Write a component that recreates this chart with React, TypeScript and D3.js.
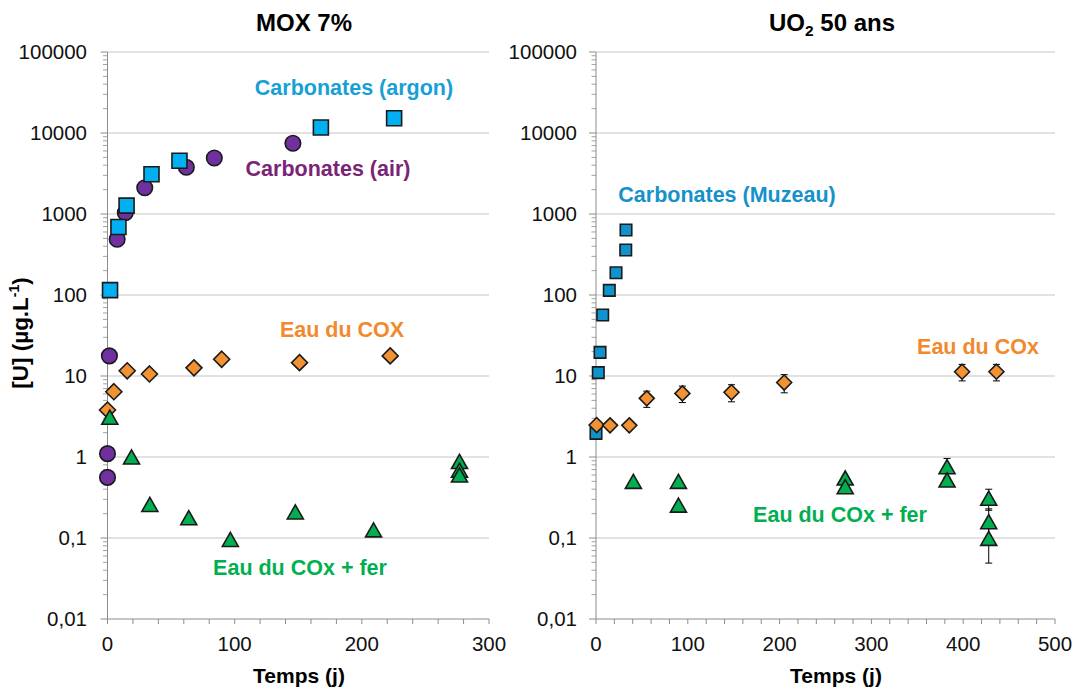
import React from "react";
import * as d3 from "d3";

// ---------- data ----------
const yTickValues = [100000, 10000, 1000, 100, 10, 1, 0.1, 0.01];
const yTickLabels = ["100000", "10000", "1000", "100", "10", "1", "0,1", "0,01"];
const leftXTicks = [0, 100, 200, 300];
const rightXTicks = [0, 100, 200, 300, 400, 500];

// MOX 7%
const moxArgonT = [2, 8.6, 15, 34.6, 56.6, 167.8, 225.4];
const moxArgonV = [115, 690, 1270, 3090, 4550, 11700, 15200];
const moxAirT = [0, 0, 1.5, 7.6, 14, 29.3, 62, 84, 145.8];
const moxAirV = [0.56, 1.1, 17.7, 488, 1037, 2110, 3770, 4910, 7470];
const moxCoxT = [0, 5, 15.5, 33, 68, 89.8, 151, 222.3];
const moxCoxV = [3.8, 6.4, 11.6, 10.6, 12.6, 16.1, 14.6, 17.7];
const moxFerT = [1.8, 18.9, 33.3, 63.9, 96.6, 147.7, 209.2, 276.8, 276.8, 276.8];
const moxFerV = [3.1, 1.0, 0.26, 0.178, 0.096, 0.21, 0.126, 0.88, 0.69, 0.6];

// UO2 50 ans
const uoCarbT = [0, 2.5, 4.4, 7.3, 14.5, 21.8, 32.4, 32.7];
const uoCarbV = [1.96, 11, 19.6, 56.6, 114, 188, 360, 634];
const uoCoxT = [0.7, 15.3, 36.3, 55.3, 94.1, 147.6, 205, 398.8, 436.2];
const uoCoxV = [2.48, 2.46, 2.46, 5.3, 6.1, 6.3, 8.3, 11.3, 11.3];
const uoCoxErr = [0, 0, 0, 1.2, 1.4, 1.5, 2.1, 2.6, 2.6];
const uoFerT = [40.7, 89.8, 89.8, 271.5, 271.5, 382.4, 382.4, 427.8, 427.8, 427.8];
const uoFerV = [0.5, 0.5, 0.255, 0.55, 0.43, 0.76, 0.52, 0.31, 0.159, 0.099];
const uoFerErr = [0, 0, 0, 0, 0, 0.2, 0, 0.09, 0.07, 0.05];

// ---------- styles ----------
const FONT = "'Liberation Sans', Arial, Helvetica, sans-serif";
const C_ARGON = "#00b0f0";
const C_ARGON_TXT = "#17a0d6";
const C_MUZ = "#0f93cc";
const C_MUZ_TXT = "#1592c9";
const C_AIR = "#7030a0";
const C_AIR_TXT = "#7a2478";
const C_COX = "#f39232";
const C_COX_TXT = "#f08a2c";
const C_FER = "#00b050";
const GRID = "#c6c6c6";
const AXIS = "#8c8c8c";

const yScale = d3.scaleLog().domain([0.01, 100000]).range([619, 52]);
const xLeft = d3.scaleLinear().domain([0, 300]).range([107.5, 489]);
const xRight = d3.scaleLinear().domain([0, 500]).range([596, 1055]);

type Shape = "square" | "circle" | "diamond" | "triangle";

function markerPath(shape: Shape, s: number): string {
  const h = s / 2;
  if (shape === "square") return `M${-h},${-h}H${h}V${h}H${-h}Z`;
  if (shape === "diamond") return `M0,${-h}L${h},0L0,${h}L${-h},0Z`;
  if (shape === "triangle") {
    const th = s * 0.88;
    return `M0,${-th / 2}L${h},${th / 2}L${-h},${th / 2}Z`;
  }
  const p = d3.path();
  p.arc(0, 0, h, 0, Math.PI * 2);
  p.closePath();
  return p.toString();
}

function Series(props: {
  xs: number[];
  ys: number[];
  errs?: number[];
  x: d3.ScaleLinear<number, number>;
  shape: Shape;
  size: number;
  fill: string;
}) {
  const { xs, ys, errs, x, shape, size, fill } = props;
  const d = markerPath(shape, size);
  return (
    <g>
      {errs &&
        xs.map((t, i) =>
          errs[i] > 0 ? (
            <g key={"e" + i} stroke="#000" strokeWidth={1}>
              <line x1={x(t)} x2={x(t)} y1={yScale(ys[i] + errs[i])} y2={yScale(ys[i] - errs[i])} />
              <line x1={x(t) - 3.5} x2={x(t) + 3.5} y1={yScale(ys[i] + errs[i])} y2={yScale(ys[i] + errs[i])} />
              <line x1={x(t) - 3.5} x2={x(t) + 3.5} y1={yScale(ys[i] - errs[i])} y2={yScale(ys[i] - errs[i])} />
            </g>
          ) : null
        )}
      {xs.map((t, i) => (
        <path
          key={i}
          d={d}
          transform={`translate(${x(t)},${yScale(ys[i])})`}
          fill={fill}
          stroke="#1a1a1a"
          strokeWidth={1.6}
        />
      ))}
    </g>
  );
}

function Axes(props: {
  x: d3.ScaleLinear<number, number>;
  xTicks: number[];
  xMax: number;
  labelRight: number;
}) {
  const { x, xTicks, xMax, labelRight } = props;
  const x0 = x(0);
  const x1 = x(xMax);
  const minor: number[] = [];
  for (let e = -2; e < 5; e++) {
    for (let m = 2; m <= 9; m++) minor.push(m * Math.pow(10, e));
  }
  const xMinor = d3.range(0, xMax + 0.001, 20);
  return (
    <g fontFamily={FONT}>
      {yTickValues.map((v) =>
        v > 0.01 ? (
          <line key={"g" + v} x1={x0} x2={x1} y1={yScale(v)} y2={yScale(v)} stroke={GRID} strokeWidth={1.2} />
        ) : null
      )}
      {/* y axis */}
      <line x1={x0} x2={x0} y1={yScale(100000)} y2={yScale(0.01)} stroke={AXIS} strokeWidth={1} />
      {yTickValues.map((v) => (
        <line key={"yt" + v} x1={x0 - 7} x2={x0} y1={yScale(v)} y2={yScale(v)} stroke={AXIS} strokeWidth={1} />
      ))}
      {minor.map((v) => (
        <line key={"ym" + v} x1={x0 - 4.5} x2={x0} y1={yScale(v)} y2={yScale(v)} stroke={AXIS} strokeWidth={0.8} />
      ))}
      {yTickValues.map((v, i) => (
        <text key={"yl" + v} x={labelRight} y={yScale(v)} dy="0.36em" textAnchor="end" fontSize={20.5} fill="#111">
          {yTickLabels[i]}
        </text>
      ))}
      {/* x axis */}
      <line x1={x0} x2={x1} y1={yScale(0.01)} y2={yScale(0.01)} stroke={AXIS} strokeWidth={1} />
      {xMinor.map((t) => (
        <line key={"xm" + t} x1={x(t)} x2={x(t)} y1={yScale(0.01)} y2={yScale(0.01) + 5} stroke={AXIS} strokeWidth={1} />
      ))}
      {xTicks.map((t) => (
        <text key={"xl" + t} x={x(t)} y={651} textAnchor="middle" fontSize={20.5} fill="#111">
          {t}
        </text>
      ))}
    </g>
  );
}

export default function App() {
  return (
    <svg
      width={1074}
      height={691}
      style={{ position: "absolute", left: 0, top: 0, background: "#fff" }}
      fontFamily={FONT}
    >
      <rect x={0} y={0} width={1074} height={691} fill="#fff" />
      {/* Titles */}
      <text x={304} y={31} textAnchor="middle" fontSize={24} fontWeight="bold" fill="#000">
        MOX 7%
      </text>
      <text x={832} y={31} textAnchor="middle" fontSize={24} fontWeight="bold" fill="#000">
        UO<tspan fontSize={15.5} dy={5}>2</tspan>
        <tspan dy={-5}> 50 ans</tspan>
      </text>

      {/* Y axis title */}
      <text
        transform="translate(28,333) rotate(-90)"
        textAnchor="middle"
        fontSize={22.5}
        fontWeight="bold"
        fill="#000"
      >
        [U] (µg.L<tspan fontSize={14} dy={-9}>-1</tspan>
        <tspan dy={9}>)</tspan>
      </text>

      {/* X axis titles */}
      <text x={299} y={683} textAnchor="middle" fontSize={21} fontWeight="bold" fill="#000">
        Temps (j)
      </text>
      <text x={836} y={683} textAnchor="middle" fontSize={21} fontWeight="bold" fill="#000">
        Temps (j)
      </text>

      {/* Left panel */}
      <Axes x={xLeft} xTicks={leftXTicks} xMax={300} labelRight={87} />
      <Series xs={moxAirT} ys={moxAirV} x={xLeft} shape="circle" size={15.5} fill={C_AIR} />
      <Series xs={moxArgonT} ys={moxArgonV} x={xLeft} shape="square" size={15} fill={C_ARGON} />
      <Series xs={moxCoxT} ys={moxCoxV} x={xLeft} shape="diamond" size={16} fill={C_COX} />
      <Series xs={moxFerT} ys={moxFerV} x={xLeft} shape="triangle" size={16} fill={C_FER} />

      <text x={354} y={95} textAnchor="middle" fontSize={21.5} fontWeight="bold" fill={C_ARGON_TXT}>
        Carbonates (argon)
      </text>
      <text x={328} y={176} textAnchor="middle" fontSize={21.5} fontWeight="bold" fill={C_AIR_TXT}>
        Carbonates (air)
      </text>
      <text x={342} y={337} textAnchor="middle" fontSize={21.5} fontWeight="bold" fill={C_COX_TXT}>
        Eau du COX
      </text>
      <text x={300} y={575} textAnchor="middle" fontSize={21.5} fontWeight="bold" fill={C_FER}>
        Eau du COx + fer
      </text>

      {/* Right panel */}
      <Axes x={xRight} xTicks={rightXTicks} xMax={500} labelRight={577} />
      <Series xs={uoCarbT} ys={uoCarbV} x={xRight} shape="square" size={11.5} fill={C_MUZ} />
      <Series xs={uoCoxT} ys={uoCoxV} errs={uoCoxErr} x={xRight} shape="diamond" size={15} fill={C_COX} />
      <Series xs={uoFerT} ys={uoFerV} errs={uoFerErr} x={xRight} shape="triangle" size={16} fill={C_FER} />

      <text x={727} y={202} textAnchor="middle" fontSize={21.5} fontWeight="bold" fill={C_MUZ_TXT}>
        Carbonates (Muzeau)
      </text>
      <text x={978} y={354} textAnchor="middle" fontSize={21.5} fontWeight="bold" fill={C_COX_TXT}>
        Eau du COx
      </text>
      <text x={840} y={522} textAnchor="middle" fontSize={21.5} fontWeight="bold" fill={C_FER}>
        Eau du COx + fer
      </text>
    </svg>
  );
}
